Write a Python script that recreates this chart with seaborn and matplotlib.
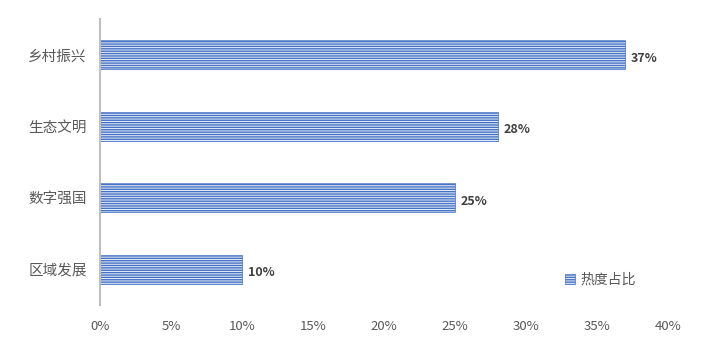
import matplotlib
matplotlib.use('Agg')

import matplotlib.pyplot as plt
import pandas as pd
import seaborn as sns
from matplotlib.ticker import FuncFormatter

# Data
categories = ["乡村振兴", "生态文明", "数字强国", "区域发展"]
values = [0.37, 0.28, 0.25, 0.10]
series_name = "热度占比"
xticks = [0, 0.05, 0.10, 0.15, 0.20, 0.25, 0.30, 0.35, 0.40]

df = pd.DataFrame({"category": categories, "value": values})

sns.set_style("white")
plt.rcParams['font.family'] = ['Noto Sans CJK SC', 'DejaVu Sans']
plt.rcParams['hatch.linewidth'] = 1.0

blue = "#4472C4"
gray_text = "#595959"

fig = plt.figure(figsize=(7.05, 3.54), dpi=100)
ax = fig.add_axes([100 / 705, 1 - 305 / 354, 568 / 705, 286 / 354])

sns.barplot(data=df, x="value", y="category", orient="h", width=0.4,
            color="#e4eaf7", edgecolor=blue, linewidth=0.5, ax=ax,
            label=series_name)
for p in ax.patches:
    p.set_hatch("-------")
    p.set_facecolor("#e8eef9")

ax.set_xlim(0, 0.40)
ax.set_ylim(3.5, -0.5)
ax.set_xticks(xticks)
ax.xaxis.set_major_formatter(FuncFormatter(lambda v, _: f"{v * 100:.0f}%"))
ax.tick_params(axis='x', length=0, labelsize=9.5, colors=gray_text, pad=11)
ax.tick_params(axis='y', length=0, labelsize=10.5, colors=gray_text, pad=9.5)
ax.set_xlabel("")
ax.set_ylabel("")

for s in ["top", "right", "bottom"]:
    ax.spines[s].set_visible(False)
ax.spines["left"].set_color("#bfbfbf")
ax.spines["left"].set_linewidth(1.5)

# Value labels
for i, v in enumerate(values):
    ax.text(v + 0.004, i + 0.05, f"{v * 100:.0f}%", va="center", ha="left",
            fontsize=9, fontweight="bold", color="#404040")

leg = ax.legend(loc="lower right", bbox_to_anchor=(0.965, 0.02), frameon=False,
                fontsize=10, handlelength=0.7, handleheight=0.7, handletextpad=0.4)
for t in leg.get_texts():
    t.set_color(gray_text)

fig.savefig("out.png", dpi=100)
